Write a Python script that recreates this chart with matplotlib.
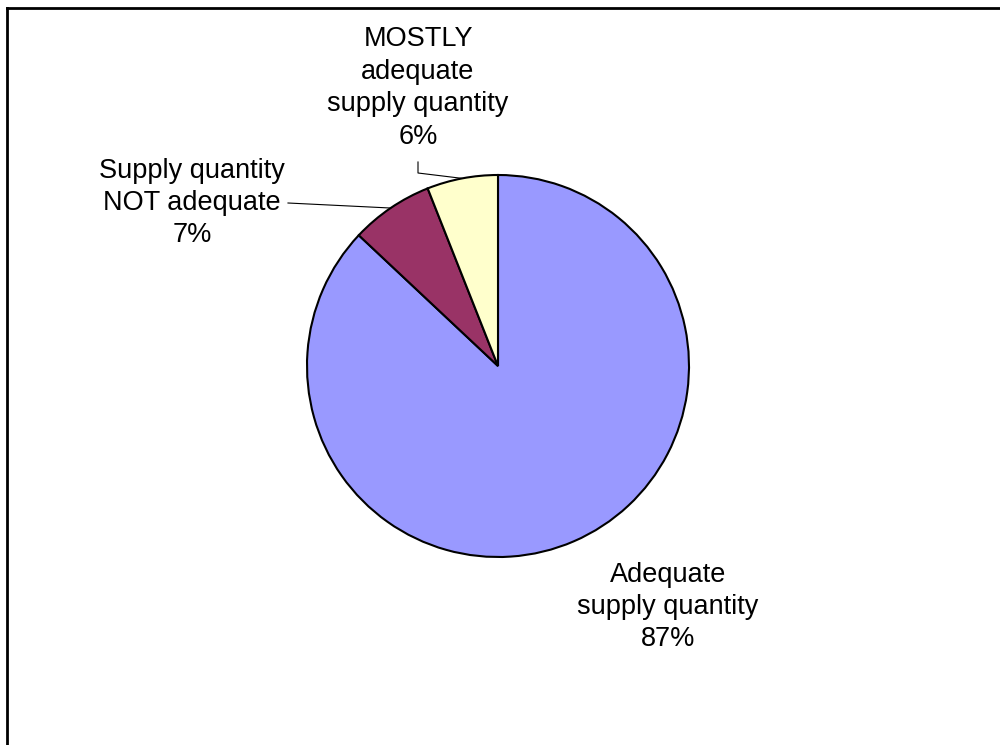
import numpy as np
import matplotlib
matplotlib.use("Agg")
import matplotlib.pyplot as plt
from matplotlib.lines import Line2D

categories = ["Adequate\nsupply quantity", "Supply quantity\nNOT adequate", "MOSTLY\nadequate\nsupply quantity"]
values = [87, 7, 6]
colors = ["#9999FF", "#993366", "#FFFFCC"]

plt.rcParams['font.family'] = ['Liberation Sans', 'DejaVu Sans']

W, H = 1000, 745
fig = plt.figure(figsize=(10, 7.45), dpi=100)
ax = fig.add_axes([0, 0, 1, 1])

cx, cy, R = 498, H - 366, 191
wedges, _ = ax.pie(values, colors=colors, startangle=90, counterclock=False,
                   center=(cx, cy), radius=R, frame=True,
                   wedgeprops=dict(edgecolor='black', linewidth=1.5))
ax.set_xlim(0, W)
ax.set_ylim(0, H)
ax.set_aspect('equal')
ax.axis('off')

total = sum(values)
fs = 19.5
ls = 1.32
ax.text(668, H - 607, f"{categories[0]}\n{round(values[0]/total*100)}%", ha='center', va='center',
        fontsize=fs, linespacing=ls)
ax.text(192, H - 203, f"{categories[1]}\n{round(values[1]/total*100)}%", ha='center', va='center',
        fontsize=fs, linespacing=ls)
ax.text(418, H - 88, f"{categories[2]}\n{round(values[2]/total*100)}%", ha='center', va='center',
        fontsize=fs, linespacing=ls)

def edge_pt(w):
    a = np.deg2rad((w.theta1 + w.theta2) / 2)
    return cx + R * np.cos(a), cy + R * np.sin(a)

ex, ey = edge_pt(wedges[1])
ax.plot([288, ex], [H - 203, ey], color='black', lw=0.8)
ex, ey = edge_pt(wedges[2])
ax.plot([418, 418, ex], [H - 162, H - 173, ey], color='black', lw=0.8)

# outer frame (top and left edges visible)
fig.add_artist(Line2D([7/W, 1], [1 - 8/H, 1 - 8/H], transform=fig.transFigure, color='black', lw=2))
fig.add_artist(Line2D([7/W, 7/W], [0, 1 - 8/H], transform=fig.transFigure, color='black', lw=2))

fig.savefig("out.png", dpi=100, facecolor='white')
